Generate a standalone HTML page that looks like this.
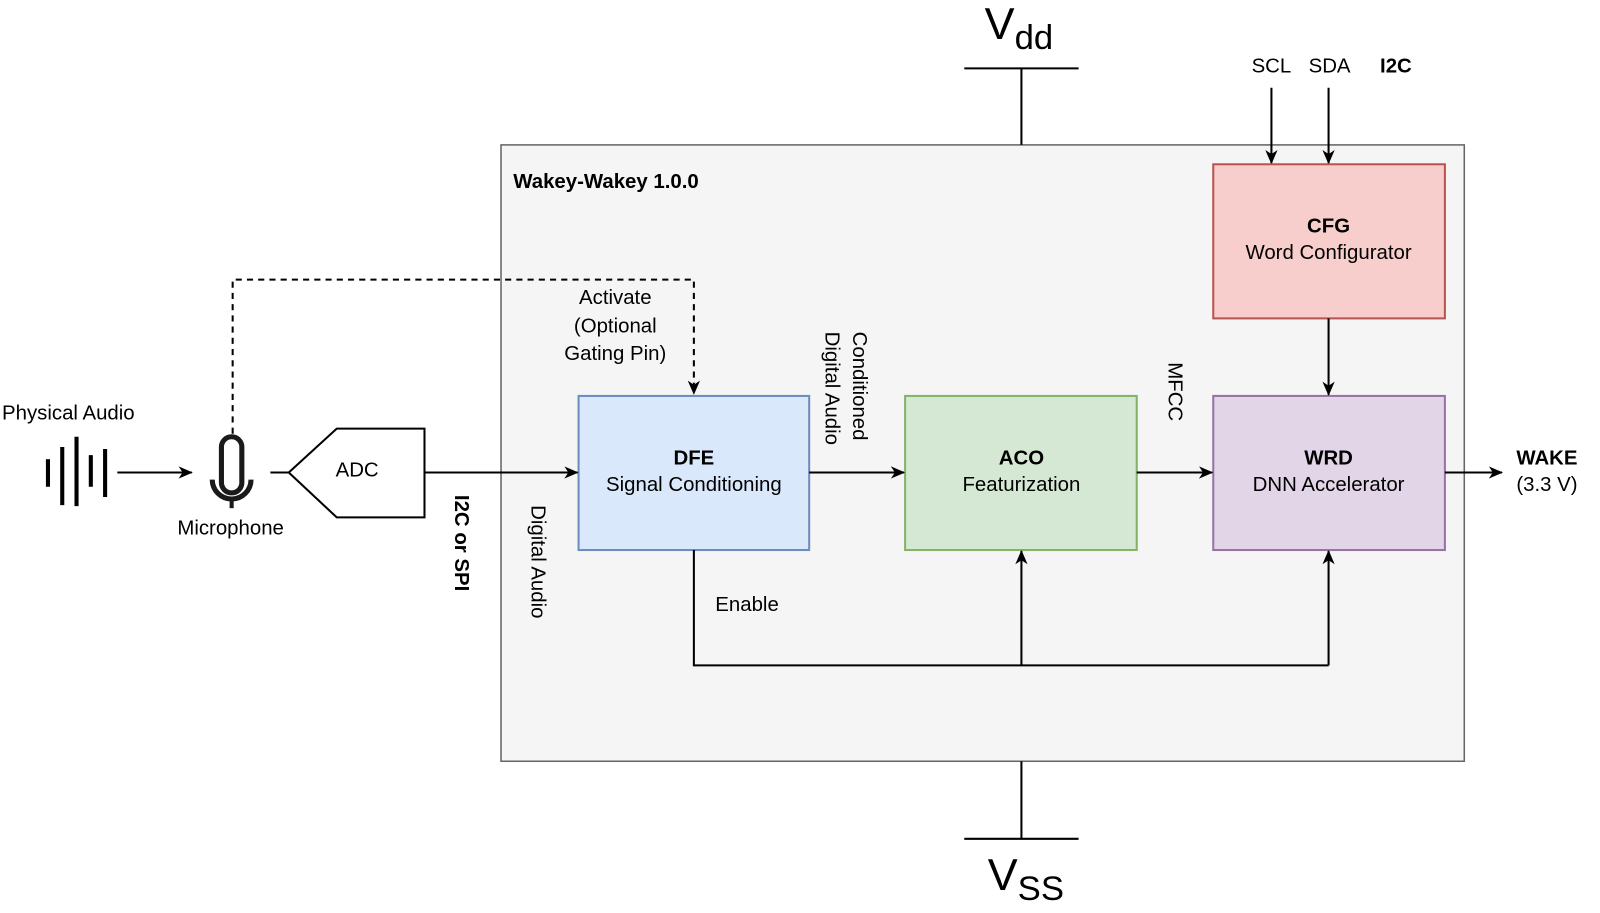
<!DOCTYPE html>
<html><head><meta charset="utf-8"><style>
html,body{margin:0;padding:0;background:#fff;}
svg{display:block;}
text{font-family:"Liberation Sans",Arial,sans-serif;fill:#000;}
</style></head><body>
<svg width="1600" height="913" viewBox="0 0 1568 894.7" preserveAspectRatio="none" xmlns="http://www.w3.org/2000/svg">
<defs>
<marker id="ar" markerWidth="16" markerHeight="14" refX="13" refY="7" orient="auto" markerUnits="userSpaceOnUse">
<path d="M0,1 L14,7 L0,13 L4,7 Z" fill="#000"/>
</marker>
</defs>
<rect x="491" y="142" width="944" height="604" fill="#f5f5f5" stroke="#666" stroke-width="1.5"/>
<text x="503" y="184" font-size="20" font-weight="bold">Wakey-Wakey 1.0.0</text>

<line x1="945" y1="67" x2="1057" y2="67" stroke="#000" stroke-width="2"/>
<line x1="1001" y1="67" x2="1001" y2="142" stroke="#000" stroke-width="2"/>
<text x="965" y="38" font-size="44">V<tspan font-size="34" dy="10">dd</tspan></text>
<line x1="945" y1="822" x2="1057" y2="822" stroke="#000" stroke-width="2"/>
<line x1="1001" y1="746" x2="1001" y2="822" stroke="#000" stroke-width="2"/>
<text x="968" y="872" font-size="44">V<tspan font-size="34" dy="10">SS</tspan></text>

<text x="1246" y="71" font-size="20" text-anchor="middle">SCL</text>
<text x="1303" y="71" font-size="20" text-anchor="middle">SDA</text>
<text x="1368" y="71" font-size="20" font-weight="bold" text-anchor="middle">I2C</text>
<line x1="1246" y1="86" x2="1246" y2="160" stroke="#000" stroke-width="2" marker-end="url(#ar)"/>
<line x1="1302" y1="86" x2="1302" y2="160" stroke="#000" stroke-width="2" marker-end="url(#ar)"/>

<rect x="1189" y="161" width="227" height="151" fill="#f8cecc" stroke="#b85450" stroke-width="2"/>
<text x="1302" y="228" font-size="20" font-weight="bold" text-anchor="middle">CFG</text>
<text x="1302" y="254" font-size="20" text-anchor="middle">Word Configurator</text>

<rect x="1189" y="388" width="227" height="151" fill="#e1d5e7" stroke="#9673a6" stroke-width="2"/>
<text x="1302" y="455" font-size="20" font-weight="bold" text-anchor="middle">WRD</text>
<text x="1302" y="481" font-size="20" text-anchor="middle">DNN Accelerator</text>

<rect x="887" y="388" width="227" height="151" fill="#d5e8d4" stroke="#82b366" stroke-width="2"/>
<text x="1001" y="455" font-size="20" font-weight="bold" text-anchor="middle">ACO</text>
<text x="1001" y="481" font-size="20" text-anchor="middle">Featurization</text>

<rect x="567" y="388" width="226" height="151" fill="#dae8fc" stroke="#6c8ebf" stroke-width="2"/>
<text x="680" y="455" font-size="20" font-weight="bold" text-anchor="middle">DFE</text>
<text x="680" y="481" font-size="20" text-anchor="middle">Signal Conditioning</text>

<line x1="1302" y1="312" x2="1302" y2="387" stroke="#000" stroke-width="2" marker-end="url(#ar)"/>

<line x1="416" y1="463" x2="566" y2="463" stroke="#000" stroke-width="2" marker-end="url(#ar)"/>
<line x1="793" y1="463" x2="886" y2="463" stroke="#000" stroke-width="2" marker-end="url(#ar)"/>
<line x1="1114" y1="463" x2="1188" y2="463" stroke="#000" stroke-width="2" marker-end="url(#ar)"/>
<line x1="1416" y1="463" x2="1472" y2="463" stroke="#000" stroke-width="2" marker-end="url(#ar)"/>
<text x="1486" y="455" font-size="20" font-weight="bold">WAKE</text>
<text x="1486" y="481" font-size="20">(3.3 V)</text>

<polyline points="680,539 680,652 1302,652" fill="none" stroke="#000" stroke-width="2"/>
<line x1="1001" y1="652" x2="1001" y2="540" stroke="#000" stroke-width="2" marker-end="url(#ar)"/>
<line x1="1302" y1="652" x2="1302" y2="540" stroke="#000" stroke-width="2" marker-end="url(#ar)"/>
<text x="701" y="599" font-size="20">Enable</text>

<polyline points="228,425 228,274 680,274 680,386" fill="none" stroke="#000" stroke-width="2" stroke-dasharray="6,5" marker-end="url(#ar)"/>
<text x="603" y="298" font-size="20" text-anchor="middle">Activate</text>
<text x="603" y="326" font-size="20" text-anchor="middle">(Optional</text>
<text x="603" y="353" font-size="20" text-anchor="middle">Gating Pin)</text>

<text transform="translate(836,325) rotate(90)" font-size="20">Conditioned</text>
<text transform="translate(809,325) rotate(90)" font-size="20">Digital Audio</text>
<text transform="translate(1145,355) rotate(90)" font-size="20">MFCC</text>
<text transform="translate(521,495) rotate(90)" font-size="20">Digital Audio</text>
<text transform="translate(446,485) rotate(90)" font-size="20" font-weight="bold">I2C or SPI</text>

<text x="2" y="411" font-size="20">Physical Audio</text>
<g stroke="#000" stroke-width="4">
<line x1="47" y1="450" x2="47" y2="477"/>
<line x1="61" y1="438" x2="61" y2="495"/>
<line x1="75" y1="428" x2="75" y2="496"/>
<line x1="89" y1="446" x2="89" y2="477"/>
<line x1="103" y1="440" x2="103" y2="487"/>
</g>
<line x1="115" y1="463" x2="188" y2="463" stroke="#000" stroke-width="2" marker-end="url(#ar)"/>

<rect x="217" y="428" width="20" height="55" rx="10" fill="none" stroke="#1a1a1a" stroke-width="5"/>
<path d="M208,470 A18,18 0 0 0 246,470" fill="none" stroke="#1a1a1a" stroke-width="5"/>
<line x1="227" y1="488" x2="227" y2="498" stroke="#1a1a1a" stroke-width="4"/>
<text x="226" y="524" font-size="20" text-anchor="middle">Microphone</text>
<line x1="265" y1="463" x2="283" y2="463" stroke="#000" stroke-width="2"/>

<polygon points="283,463 330,420 416,420 416,507 330,507" fill="#fff" stroke="#000" stroke-width="2"/>
<text x="350" y="467" font-size="20" text-anchor="middle">ADC</text>
</svg>
</body></html>
